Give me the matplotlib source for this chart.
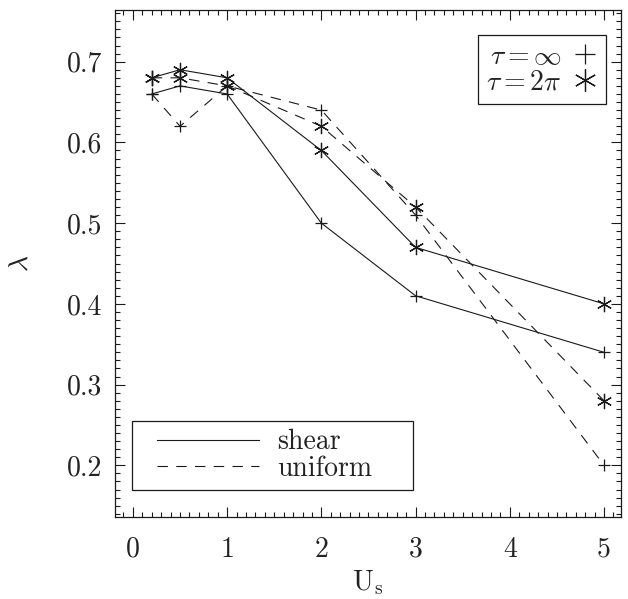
import matplotlib
matplotlib.use("Agg")
import matplotlib.pyplot as plt
from matplotlib.lines import Line2D
from matplotlib.legend_handler import HandlerLine2D
from matplotlib.ticker import MultipleLocator

plt.rcParams['mathtext.fontset'] = 'cm'
plt.rcParams['font.family'] = ['cmr10', 'DejaVu Serif']
plt.rcParams['axes.formatter.use_mathtext'] = True
plt.rcParams['lines.scale_dashes'] = False

# Data
us = [0.2, 0.5, 1, 2, 3, 5]
shear_inf = [0.66, 0.67, 0.66, 0.50, 0.41, 0.34]
shear_2pi = [0.68, 0.69, 0.68, 0.59, 0.47, 0.40]
uniform_inf = [0.66, 0.62, 0.67, 0.64, 0.51, 0.20]
uniform_2pi = [0.68, 0.68, 0.67, 0.62, 0.52, 0.28]
xticks = [0, 1, 2, 3, 4, 5]
yticks = [0.2, 0.3, 0.4, 0.5, 0.6, 0.7]

STAR = (6, 2, 0)
solid = '-'
dashed = (0, (7.5, 6))
lc = '#1a1a1a'
tc = '#222222'
lw = 0.8

fig = plt.figure(figsize=(6.28, 5.99), dpi=100)
ax = fig.add_axes([115/628, 1-517/599, (621-115)/628, (517-10)/599])

ax.plot(us, shear_inf, color=lc, lw=lw, ls=solid, marker='+', ms=9, mew=0.9)
ax.plot(us, shear_2pi, color=lc, lw=lw, ls=solid, marker=STAR, ms=11, mew=0.9)
ax.plot(us, uniform_inf, color=lc, lw=lw, ls=dashed, marker='+', ms=9, mew=0.9)
ax.plot(us, uniform_2pi, color=lc, lw=lw, ls=dashed, marker=STAR, ms=11, mew=0.9)

ax.set_xlim(-0.19, 5.18)
ax.set_ylim(0.136, 0.764)
ax.set_xticks(xticks)
ax.set_yticks(yticks)
ax.set_xticklabels([str(v) for v in xticks])
ax.set_yticklabels(['%.1f' % v for v in yticks])
ax.xaxis.set_minor_locator(MultipleLocator(0.1))
ax.yaxis.set_minor_locator(MultipleLocator(0.01))
ax.tick_params(which='both', direction='in', top=True, right=True, color=lc, width=0.8,
               labelcolor=tc)
ax.tick_params(which='major', length=7)
ax.tick_params(which='minor', length=3.6)
ax.tick_params(axis='y', which='major', labelsize=20, pad=9)
ax.tick_params(axis='x', which='major', labelsize=20, pad=14)
for s in ax.spines.values():
    s.set_linewidth(0.9)
    s.set_color(lc)

ax.set_xlabel(r'$\mathrm{U_s}$', fontsize=20, labelpad=4, color=tc)
ax.set_ylabel(r'$\lambda$', fontsize=20, labelpad=24, color=tc)

# Legend for tau markers
h1 = [Line2D([], [], ls='none', marker='+', ms=14, mew=0.9, color=lc),
      Line2D([], [], ls='none', marker=STAR, ms=16, mew=0.9, color=lc)]
leg1 = ax.legend(h1, [r'$\tau{=}\infty$', r'$\tau{=}2\pi$'], loc='upper right',
                 bbox_to_anchor=(0.970, 0.9507), borderaxespad=0, markerfirst=False,
                 fontsize=20, frameon=True, fancybox=False, framealpha=1,
                 edgecolor=lc, handlelength=0.9, handletextpad=0.4,
                 labelspacing=0.0, borderpad=0.3, labelcolor=tc)
leg1.get_frame().set_linewidth(0.9)
ax.add_artist(leg1)

# Legend for line styles
h2 = [Line2D([], [], ls=solid, color=lc, lw=lw),
      Line2D([], [], ls=dashed, color=lc, lw=lw)]
leg2 = ax.legend(h2, ['shear', 'uniform'], loc='lower left',
                 bbox_to_anchor=(0.033, 0.0533, 0.555, 0.0), mode='expand',
                 borderaxespad=0, fontsize=20, frameon=True, fancybox=False,
                 framealpha=1, edgecolor=lc, handlelength=4.3, handletextpad=0.65,
                 labelspacing=0.0, borderpad=0.3, labelcolor=tc,
                 handler_map={Line2D: HandlerLine2D(xpad=0.6)})
leg2.get_frame().set_linewidth(0.9)

fig.savefig('out.png', dpi=100)
